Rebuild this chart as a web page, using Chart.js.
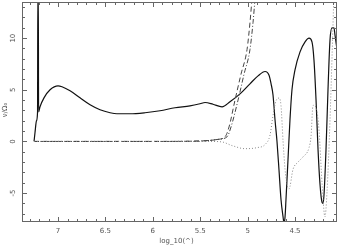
<!DOCTYPE html>
<html lang="en">
<head>
    <meta charset="UTF-8">
    <title>log_10 chart</title>
    <style>
        body { margin: 0; background: #fff; }
        #wrap { width: 339px; height: 247px; position: relative; }
    </style>
    <script src="https://cdn.jsdelivr.net/npm/chart.js"></script>
</head>
<body>
    <div id="wrap"><canvas id="c"></canvas></div>

    <script>
        // solid curve
        const solidX = [7.253, 7.243, 7.227, 7.216, 7.213, 7.208, 7.205, 7.190, 7.148, 7.084, 7.0, 6.958, 6.873, 6.768, 6.662, 6.557, 6.451, 6.378, 6.241, 6.082, 5.924, 5.766, 5.608, 5.502, 5.449, 5.365, 5.270, 5.186, 5.080, 4.975, 4.890, 4.816, 4.774, 4.753, 4.732, 4.711, 4.690, 4.669, 4.648, 4.626, 4.616, 4.605, 4.595, 4.574, 4.553, 4.532, 4.500, 4.447, 4.394, 4.352, 4.321, 4.300, 4.278, 4.257, 4.236, 4.215, 4.205, 4.194, 4.173, 4.152, 4.131, 4.110, 4.089, 4.078, 4.057];
        const solidY = [0, 0.84, 2.0, 2.87, 14.5, 14.5, 2.87, 3.36, 4.22, 5.0, 5.38, 5.29, 4.9, 4.22, 3.55, 3.07, 2.78, 2.68, 2.68, 2.78, 2.97, 3.26, 3.45, 3.65, 3.77, 3.6, 3.35, 3.84, 4.6, 5.58, 6.35, 6.77, 6.4, 5.6, 4.5, 2.1, 0, -2.74, -5.6, -7.3, -7.9, -7.3, -5.6, -1.77, 2.1, 5.0, 6.93, 8.67, 9.64, 10.0, 9.64, 7.9, 4.0, -0.8, -4.2, -5.9, -6.0, -5.15, -0.8, 5.0, 9.8, 11.0, 11.0, 10.3, 8.9];

        // dashed curve
        const dashX = [7.253, 6.5, 6.0, 5.6, 5.397, 5.312, 5.238, 5.196, 5.133, 5.070, 5.006, 4.975, 4.954, 4.943];
        const dashY = [0, 0, 0, 0.02, 0.1, 0.2, 0.45, 1.4, 4.0, 6.5, 8.9, 11.5, 13.7, 14.5];

        // dash-dot curve
        const dashDotX = [7.253, 6.5, 6.0, 5.6, 5.397, 5.312, 5.217, 5.175, 5.101, 5.038, 4.975, 4.943, 4.922, 4.911];
        const dashDotY = [0, 0, 0, 0.02, 0.1, 0.2, 0.45, 1.4, 4.0, 6.5, 8.9, 11.5, 13.7, 14.5];

        // dotted curve
        const dotX = [7.253, 6.5, 6.0, 5.397, 5.270, 5.165, 5.028, 4.901, 4.816, 4.764, 4.732, 4.701, 4.669, 4.648, 4.626, 4.605, 4.584, 4.563, 4.521, 4.468, 4.416, 4.352, 4.331, 4.310, 4.278, 4.246, 4.215, 4.184, 4.163, 4.131, 4.110, 4.089];
        const dotY = [0, 0, 0, 0, -0.05, -0.4, -0.7, -0.6, -0.3, 0.6, 2.5, 3.9, 4.2, 3.5, 0, -2.7, -4.2, -4.6, -2.7, -2.0, -1.5, -0.6, 0.5, 3.5, 3.3, 1.0, -4.0, -7.3, -5.0, 2.0, 8.0, 14.5];

        const xTicks = [7, 6.5, 6, 5.5, 5, 4.5];
        const xTickLabels = ['7', '6.5', '6', '5.5', '5', '4.5'];
        const yTicks = [10, 5, 0, -5];
        const yTickLabels = ['10', '5', '0', '-5'];

        const xMin = 4.057, xMax = 7.38, yMin = -7.8, yMax = 13.5;

        function pts(xs, ys) {
            return xs.map((x, i) => ({ x: x, y: ys[i] }));
        }

        // frame, inner ticks and labels
        const frame = {
            id: 'frame',
            afterDatasetsDraw(chart) {
                const { ctx, chartArea: a, scales: { x, y } } = chart;
                ctx.save();
                ctx.strokeStyle = '#666';
                ctx.lineWidth = 1;
                ctx.strokeRect(a.left + 0.5, a.top + 0.5, a.right - a.left - 1, a.bottom - a.top - 1);
                ctx.beginPath();
                for (let k = 41; k <= 73; k++) {
                    const v = k / 10;
                    const px = Math.round(x.getPixelForValue(v)) + 0.5;
                    const len = (k % 5 === 0) ? 5 : 3;
                    ctx.moveTo(px, a.bottom); ctx.lineTo(px, a.bottom - len);
                    ctx.moveTo(px, a.top); ctx.lineTo(px, a.top + len);
                }
                for (let v = -7; v <= 13; v++) {
                    const py = Math.round(y.getPixelForValue(v)) + 0.5;
                    const len = (v % 5 === 0) ? 5 : 3;
                    ctx.moveTo(a.left, py); ctx.lineTo(a.left + len, py);
                    ctx.moveTo(a.right, py); ctx.lineTo(a.right - len, py);
                }
                ctx.stroke();

                ctx.fillStyle = '#555';
                ctx.font = '7px "DejaVu Sans"';
                ctx.textAlign = 'center';
                ctx.textBaseline = 'middle';
                xTicks.forEach((v, i) => {
                    ctx.fillText(xTickLabels[i], x.getPixelForValue(v), a.bottom + 9);
                });
                ctx.fillText('log_10(^)', (a.left + a.right) / 2 - 3, a.bottom + 19);
                yTicks.forEach((v, i) => {
                    ctx.save();
                    ctx.translate(13, y.getPixelForValue(v));
                    ctx.rotate(-Math.PI / 2);
                    ctx.fillText(yTickLabels[i], 0, 0);
                    ctx.restore();
                });
                ctx.save();
                ctx.translate(5, 110);
                ctx.rotate(-Math.PI / 2);
                ctx.fillText('ν/Ω₀', 0, 0);
                ctx.restore();
                ctx.restore();
            }
        };

        new Chart(document.getElementById('c'), {
            type: 'line',
            data: {
                datasets: [
                    { data: pts(dotX, dotY), borderColor: '#888', borderWidth: 1, borderDash: [1, 2] },
                    { data: pts(dashX, dashY), borderColor: '#444', borderWidth: 1, borderDash: [5, 3] },
                    { data: pts(dashDotX, dashDotY), borderColor: '#444', borderWidth: 1, borderDash: [5, 2, 1, 2] },
                    { data: pts(solidX, solidY), borderColor: '#111', borderWidth: 1.2 }
                ]
            },
            options: {
                responsive: true,
                maintainAspectRatio: false,
                animation: false,
                layout: { padding: { top: 2, right: 2, left: 0, bottom: 0 } },
                elements: {
                    point: { radius: 0 },
                    line: { cubicInterpolationMode: 'monotone' }
                },
                plugins: { legend: { display: false }, tooltip: { enabled: false } },
                scales: {
                    x: {
                        type: 'linear',
                        reverse: true,
                        min: xMin,
                        max: xMax,
                        grid: { display: false },
                        border: { display: false },
                        afterBuildTicks: s => { s.ticks = xTicks.map(v => ({ value: v })); },
                        afterFit: s => { s.height = 25; },
                        ticks: { display: false }
                    },
                    y: {
                        min: yMin,
                        max: yMax,
                        grid: { display: false },
                        border: { display: false },
                        afterFit: s => { s.width = 22; },
                        ticks: { display: false }
                    }
                }
            },
            plugins: [frame]
        });
    </script>
</body>
</html>
